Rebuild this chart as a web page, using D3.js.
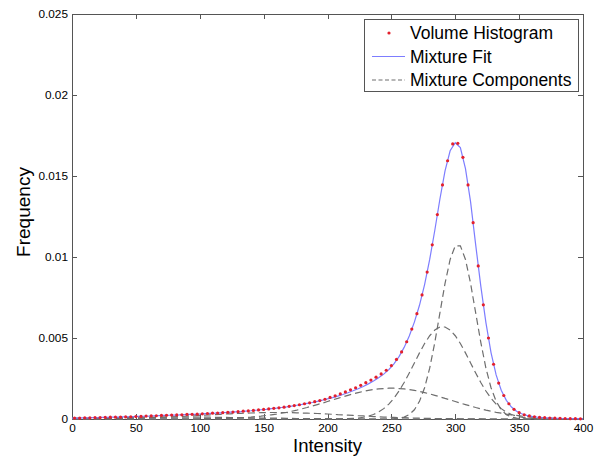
<!DOCTYPE html>
<html><head><meta charset="utf-8">
<script src="https://cdn.jsdelivr.net/npm/d3@7/dist/d3.min.js"></script>
<style>
body{margin:0;background:#fff}
svg{display:block}
text{font-family:"Liberation Sans",Arial,Helvetica,sans-serif;fill:#000}
</style>
</head><body>
<svg id="chart" width="602" height="456"></svg>
<script>
// ---- data ----
const gridIntensity = [0,4,8,12,16,20,24,28,32,36,40,44,48,52,56,60,64,68,72,76,80,84,88,92,96,100,104,108,112,116,120,124,128,132,136,140,144,148,152,156,160,164,168,172,176,180,184,188,192,196,200,204,208,212,216,220,224,228,232,236,240,244,248,252,256,260,264,268,272,276,280,284,288,292,296,300,304,308,312,316,320,324,328,332,336,340,344,348,352,356,360,364,368,372,376,380,384,388,392,396,400];
const binIntensity = [2,6,10,14,18,22,26,30,34,38,42,46,50,54,58,62,66,70,74,78,82,86,90,94,98,102,106,110,114,118,122,126,130,134,138,142,146,150,154,158,162,166,170,174,178,182,186,190,194,198,202,206,210,214,218,222,226,230,234,238,242,246,250,254,258,262,266,270,274,278,282,286,290,294,298,302,306,310,314,318,322,326,330,334,338,342,346,350,354,358,362,366,370,374,378,382,386,390,394,398];
const volumeHistogram = [
 .00006,.00006,.00007,.00007,.00008,.00009,.00010,.00011,.00011,.00012,
 .00013,.00014,.00015,.00016,.00018,.00019,.00020,.00022,.00023,.00024,
 .00025,.00026,.00028,.00029,.00030,.00032,.00034,.00036,.00037,.00039,
 .00041,.00043,.00045,.00048,.00050,.00053,.00056,.00059,.00062,.00066,
 .00069,.00073,.00078,.00083,.00088,.00094,.00100,.00107,.00114,.00122,
 .00133,.00143,.00155,.00167,.00180,.00193,.00208,.00224,.00240,.00258,
 .00278,.00301,.00330,.00368,.00414,.00477,.00555,.00650,.00766,.00907,
 .01075,.01262,.01445,.01594,.01698,.01702,.01615,.01445,.01212,.00945,
 .00705,.00500,.00338,.00222,.00145,.00094,.00060,.00039,.00026,.00019,
 .00014,.00010,.00008,.00006,.00005,.00004,.00003,.00002,.00002,.00001];
const mixtureFit = [
 .00006,.00006,.00007,.00007,.00008,.00009,.00010,.00010,.00011,.00012,
 .00013,.00014,.00015,.00016,.00017,.00018,.00020,.00021,.00022,.00023,
 .00024,.00025,.00027,.00028,.00029,.00031,.00033,.00035,.00036,.00038,
 .00040,.00042,.00044,.00046,.00049,.00051,.00054,.00057,.00060,.00064,
 .00067,.00071,.00075,.00080,.00085,.00090,.00096,.00102,.00109,.00116,
 .00124,.00132,.00141,.00151,.00162,.00174,.00187,.00201,.00217,.00234,
 .00254,.00277,.00305,.00340,.00385,.00442,.00512,.00598,.00702,.00830,
 .00985,.01165,.01358,.01532,.01656,.01705,.01675,.01545,.01340,.01075,
 .00820,.00595,.00410,.00272,.00178,.00115,.00074,.00048,.00032,.00022,
 .00016,.00012,.00009,.00007,.00005,.00004,.00003,.00003,.00002,.00002,
 .00001];
const componentNarrow = [
 0,0,0,0,0,0,0,0,0,0, 0,0,0,0,0,0,0,0,0,0, 0,0,0,0,0,0,0,0,0,0,
 0,0,0,0,0,0,0,0,0,0, 0,0,0,0,0,0,0,0,0,0, 0,0,0,0,0,0,0,0,0,0,
 0,0,0,.00002,.00005,.00012,.00027,.00057,.00109,.00193,
 .00314,.00473,.00655,.00837,.00985,.01069,.01069,.00985,.00837,.00655,
 .00473,.00314,.00193,.00109,.00057,.00027,.00012,.00005,.00002,0,
 0,0,0,0,0,0,0,0,0,0, 0];
const componentMedium = [
 0,0,0,0,0,0,0,0,0,0, 0,0,0,0,0,0,0,0,0,0, 0,0,0,0,0,0,0,0,0,0,
 0,0,0,0,0,0,0,0,0,0, 0,0,0,0,0,0,0,0,0,0,
 0,0,0,.00001,.00002,.00004,.00006,.00011,.00018,.00028,
 .00043,.00064,.00092,.00128,.00173,.00225,.00284,.00346,.00408,.00466,
 .00514,.00549,.00568,.00568,.00549,.00514,.00466,.00408,.00346,.00284,
 .00225,.00173,.00128,.00092,.00064,.00043,.00028,.00018,.00011,.00006,
 .00004,.00002,.00001,0,0,0,0,0,0,0, 0];
const componentBroad = [
 0,0,0,0,0,0,0,0,0,0, 0,0,0,0,0,0,0,0,0,0, 0,0,0,0,0,
 .00001,.00002,.00002,.00003,.00003,
 .00004,.00005,.00007,.00008,.00010,.00012,.00015,.00018,.00022,.00026,
 .00030,.00036,.00041,.00048,.00055,.00063,.00071,.00080,.00089,.00098,
 .00108,.00118,.00127,.00137,.00146,.00155,.00163,.00170,.00177,.00182,
 .00186,.00188,.00190,.00190,.00188,.00186,.00182,.00177,.00170,.00163,
 .00155,.00146,.00137,.00127,.00118,.00108,.00098,.00089,.00080,.00071,
 .00063,.00055,.00048,.00041,.00036,.00030,.00026,.00022,.00018,.00015,
 .00012,.00010,.00008,.00007,.00005,.00004,.00003,.00003,.00002,.00002,
 .00001];
const componentWide = [
 .00001,.00001,.00001,.00001,.00001,.00002,.00002,.00002,.00003,.00003,
 .00004,.00004,.00005,.00006,.00007,.00008,.00009,.00010,.00011,.00012,
 .00014,.00015,.00017,.00019,.00020,.00022,.00024,.00026,.00027,.00029,
 .00031,.00032,.00034,.00035,.00036,.00037,.00038,.00039,.00040,.00040,
 .00040,.00040,.00040,.00039,.00038,.00037,.00036,.00035,.00034,.00032,
 .00031,.00029,.00027,.00026,.00024,.00022,.00020,.00019,.00017,.00015,
 .00014,.00012,.00011,.00010,.00009,.00008,.00007,.00006,.00005,.00004,
 .00004,.00003,.00003,.00002,.00002,.00002,.00001,.00001,.00001,.00001,
 .00001,0,0,0,0,0,0,0,0,0, 0,0,0,0,0,0,0,0,0,0, 0];
const componentLow = [
 .00005,.00005,.00006,.00006,.00007,.00007,.00008,.00008,.00009,.00009,
 .00010,.00010,.00010,.00011,.00011,.00011,.00012,.00012,.00012,.00012,
 .00012,.00012,.00012,.00012,.00012,.00011,.00011,.00011,.00010,.00010,
 .00010,.00009,.00009,.00008,.00008,.00007,.00007,.00006,.00006,.00005,
 .00005,.00005,.00004,.00004,.00003,.00003,.00003,.00002,.00002,.00002,
 .00002,.00001,.00001,.00001,.00001,.00001,0,0,0,0,
 0,0,0,0,0,0,0,0,0,0, 0,0,0,0,0,0,0,0,0,0,
 0,0,0,0,0,0,0,0,0,0, 0,0,0,0,0,0,0,0,0,0, 0];
const components = [componentNarrow, componentMedium, componentBroad, componentWide, componentLow];
const xTicks = [0,50,100,150,200,250,300,350,400];
const yTicks = [0,0.005,0.01,0.015,0.02,0.025];
const yTickLabels = ["0","0.005","0.01","0.015","0.02","0.025"];
const legendLabels = ["Volume Histogram","Mixture Fit","Mixture Components"];
const xTitle = "Intensity";
const yTitle = "Frequency";

// ---- drawing ----
const svg = d3.select("#chart");
const L = 72, R = 583, T = 14, B = 419;
const x = d3.scaleLinear().domain([0,400]).range([L,R]);
const y = d3.scaleLinear().domain([0,0.025]).range([B,T]);
const axisColor = "#555";
const dotColor = "#e3202c", fitColor = "#7d7dff", compColor = "#6e6e6e";

function styleAxis(g){
  g.selectAll("path.domain").attr("stroke",axisColor).attr("stroke-width",1).attr("shape-rendering","crispEdges");
  g.selectAll(".tick line").attr("stroke",axisColor).attr("stroke-width",1).attr("shape-rendering","crispEdges");
  g.selectAll(".tick text").attr("font-family","Liberation Sans, Arial, sans-serif").attr("font-size","11.8px").attr("fill","#000");
}
svg.append("g").attr("transform",`translate(0,${B})`)
  .call(d3.axisBottom(x).tickValues(xTicks).tickFormat(d3.format("d")).tickSizeInner(-5).tickSizeOuter(0).tickPadding(5))
  .call(styleAxis);
svg.append("g").attr("transform",`translate(0,${T})`)
  .call(d3.axisTop(x).tickValues(xTicks).tickFormat("").tickSizeInner(-5).tickSizeOuter(0))
  .call(styleAxis);
svg.append("g").attr("transform",`translate(${L},0)`)
  .call(d3.axisLeft(y).tickValues(yTicks).tickFormat((d,i)=>yTickLabels[i]).tickSizeInner(-5).tickSizeOuter(0).tickPadding(4))
  .call(styleAxis);
svg.append("g").attr("transform",`translate(${R},0)`)
  .call(d3.axisRight(y).tickValues(yTicks).tickFormat("").tickSizeInner(-5).tickSizeOuter(0))
  .call(styleAxis);

const line = d3.line().x((d,i)=>x(gridIntensity[i])).y(d=>y(d));
const plot = svg.append("g");
plot.selectAll("path.comp").data(components).join("path").attr("class","comp")
  .attr("d",line).attr("fill","none").attr("stroke",compColor).attr("stroke-width",1.2)
  .attr("stroke-dasharray","7,4");
plot.append("path").attr("d",line(mixtureFit)).attr("fill","none").attr("stroke",fitColor).attr("stroke-width",1.2);
plot.selectAll("circle.hist").data(volumeHistogram).join("circle").attr("class","hist")
  .attr("cx",(d,i)=>x(binIntensity[i])).attr("cy",d=>y(d)).attr("r",1.6).attr("fill",dotColor);

// legend
const lg = svg.append("g");
lg.append("rect").attr("x",364.5).attr("y",19.5).attr("width",214).attr("height",72)
  .attr("fill","#fff").attr("stroke",axisColor).attr("stroke-width",1);
const rowsY = [33, 56.5, 80];
lg.append("circle").attr("cx",389).attr("cy",rowsY[0]).attr("r",1.6).attr("fill",dotColor);
lg.append("line").attr("x1",372).attr("x2",405).attr("y1",rowsY[1]).attr("y2",rowsY[1]).attr("stroke",fitColor).attr("stroke-width",1.2);
lg.append("line").attr("x1",372).attr("x2",405).attr("y1",rowsY[2]).attr("y2",rowsY[2]).attr("stroke",compColor).attr("stroke-width",1.2).attr("stroke-dasharray","4,2.5");
lg.selectAll("text").data(legendLabels).join("text")
  .attr("x",410).attr("y",(d,i)=>rowsY[i]).attr("dy","0.36em")
  .attr("font-size","17.5px").text(d=>d);

// axis titles
svg.append("text").attr("x",(L+R)/2).attr("y",451.5).attr("text-anchor","middle")
  .attr("font-size","18.5px").text(xTitle);
svg.append("text").attr("transform","translate(30,212) rotate(-90)").attr("text-anchor","middle")
  .attr("font-size","19px").text(yTitle);
</script>
</body></html>
